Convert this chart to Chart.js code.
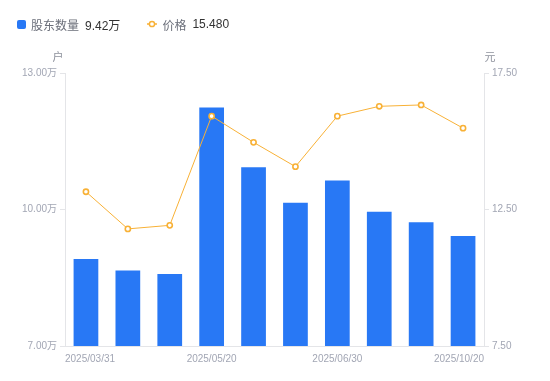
<!DOCTYPE html>
<html>
<head>
<meta charset="utf-8">
<script src="https://cdn.jsdelivr.net/npm/chart.js@4.4.1/dist/chart.umd.min.js"></script>
<style>
  html, body { margin: 0; padding: 0; background: #fff; }
  #wrap { position: relative; width: 550px; height: 381px; }
  #legend {
    position: absolute; left: 17px; top: 15px; height: 18px;
    display: flex; align-items: center;
    font-family: "Liberation Sans", "Noto Sans CJK SC", sans-serif; font-size: 12px;
  }
  .item { display: flex; align-items: center; margin-right: 27px; }
  .box { width: 9px; height: 9px; border-radius: 2px; background: #2878f5; margin-right: 5px; }
  .name { color: #6b6f7a; margin-right: 6px; }
  .val { color: #333; }
  svg { margin-right: 5px; }
</style>
</head>
<body>
<div id="wrap">
  <div id="legend"></div>
  <canvas id="chart" width="550" height="381"></canvas>
</div>
<script>
const dates = ["2025/03/31", "2025/04/10", "2025/04/30", "2025/05/20", "2025/05/31",
               "2025/06/20", "2025/06/30", "2025/08/31", "2025/09/30", "2025/10/20"];
// 股东数量, 万户
const holders = [8.91, 8.66, 8.58, 12.24, 10.93, 10.15, 10.64, 9.95, 9.72, 9.42];
// 价格, 元
const prices = [13.15, 11.79, 11.92, 15.92, 14.96, 14.07, 15.92, 16.28, 16.33, 15.48];
// which dates get a label; first and last sit on the axis ends
const shownTicks = [0, 3, 6, 9];
const shownPos = [0, 3.5, 6.5, 10];

const blue = "#2878f5";
const orange = "#f8b136";
const tickColor = "#a2a6b4";
const axisColor = "#e4e5e8";

document.getElementById("legend").innerHTML =
  '<div class="item"><span class="box"></span><span class="name">股东数量</span>' +
  '<span class="val">' + holders[holders.length - 1].toFixed(2) + '万</span></div>' +
  '<div class="item"><svg width="10" height="8"><line x1="0" y1="4" x2="10" y2="4" stroke="' + orange +
  '" stroke-width="1.5"/><circle cx="5" cy="4" r="2.6" fill="#fff" stroke="' + orange + '" stroke-width="1.5"/></svg>' +
  '<span class="name">价格</span><span class="val">' + prices[prices.length - 1].toFixed(3) + '</span></div>';

const unitTitles = {
  id: "unitTitles",
  afterDraw(chart) {
    const ctx = chart.ctx;
    const area = chart.chartArea;
    ctx.save();
    ctx.font = '11px "Liberation Sans", "Noto Sans CJK SC", sans-serif';
    ctx.fillStyle = "#8d919c";
    ctx.textBaseline = "middle";
    ctx.textAlign = "center";
    ctx.fillText("户", area.left - 7, area.top - 15);
    ctx.fillText("元", area.right + 6, area.top - 15);
    ctx.restore();
  }
};

const tickFont = { family: '"Liberation Sans", "Noto Sans CJK SC", sans-serif', size: 10 };

new Chart(document.getElementById("chart"), {
  type: "bar",
  data: {
    labels: dates,
    datasets: [
      {
        type: "line",
        label: "价格",
        data: prices,
        yAxisID: "y1",
        borderColor: orange,
        borderWidth: 1,
        pointRadius: 2.6,
        pointBorderWidth: 1.6,
        pointBackgroundColor: "#fff",
        pointBorderColor: orange,
        tension: 0,
        order: 1
      },
      {
        label: "股东数量",
        data: holders,
        yAxisID: "y",
        backgroundColor: blue,
        categoryPercentage: 1,
        barPercentage: 0.59,
        order: 2
      }
    ]
  },
  options: {
    responsive: false,
    animation: false,
    layout: { padding: { top: 73, left: 0, right: 0, bottom: 0 } },
    plugins: { legend: { display: false }, tooltip: { enabled: false } },
    scales: {
      x: {
        grid: { display: false },
        border: { display: true, color: axisColor },
        ticks: { display: false },
        afterFit: s => { s.height = 0; }
      },
      // label axis: spans category edges so end labels can align inside
      xLabels: {
        type: "linear", position: "bottom", min: 0, max: 10, offset: false,
        grid: { display: false, drawTicks: false },
        border: { display: false },
        afterBuildTicks: s => { s.ticks = shownPos.map(v => ({ value: v })); },
        ticks: {
          autoSkip: false, maxRotation: 0, align: "inner", padding: 7,
          color: tickColor, font: tickFont,
          callback: (v, i) => dates[shownTicks[i]]
        },
        afterFit: s => { s.height = 35; }
      },
      y: {
        position: "left", min: 7, max: 13,
        grid: { drawOnChartArea: false, drawTicks: true, tickLength: 5, color: axisColor },
        border: { display: true, color: axisColor },
        ticks: { stepSize: 3, padding: 3, color: tickColor, font: tickFont,
                 callback: v => v.toFixed(2) + "万" },
        afterFit: s => { s.width = 65; }
      },
      y1: {
        position: "right", min: 7.5, max: 17.5,
        grid: { drawOnChartArea: false, drawTicks: true, tickLength: 5, color: axisColor },
        border: { display: true, color: axisColor },
        ticks: { stepSize: 5, padding: 3, color: tickColor, font: tickFont,
                 callback: v => v.toFixed(2) },
        afterFit: s => { s.width = 66; }
      }
    }
  },
  plugins: [unitTitles]
});
</script>
</body>
</html>
